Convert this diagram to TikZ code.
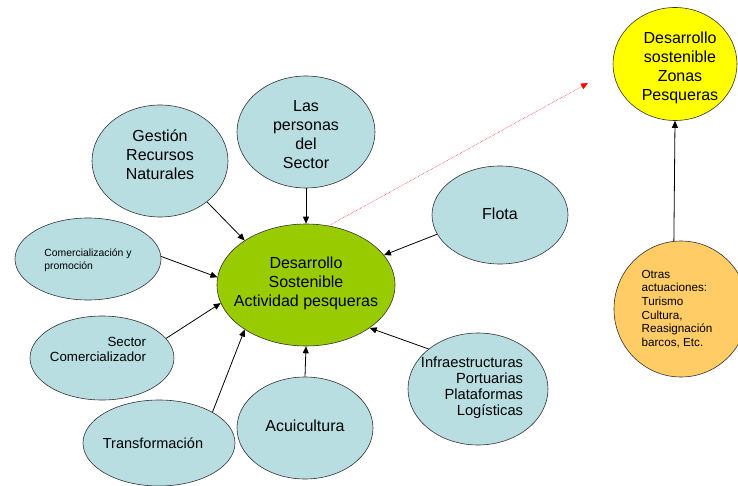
\documentclass[tikz,border=0pt]{standalone}
\usepackage{fontspec}
\setmainfont{Liberation Sans}
\usetikzlibrary{shapes.geometric,arrows.meta}
\definecolor{azul}{RGB}{184,222,226}
\definecolor{verde}{RGB}{153,204,0}
\definecolor{amarillo}{RGB}{255,255,0}
\definecolor{naranja}{RGB}{255,204,102}
% texto sin tamano propio, para que la elipse tenga justo el tamano pedido
\newcommand{\txt}[3][c]{\smash{\makebox[0pt]{\raisebox{\dimexpr#2-0.4em\relax}{\begin{tabular}{@{}#1@{}}#3\end{tabular}}}}}
\begin{document}
\begin{tikzpicture}[x=1pt, y=-1pt,
        every node/.style={ellipse,draw=black!80,line width=0.6pt,inner sep=0pt,fill=azul,font=\fontsize{16}{19}\selectfont},
        flecha/.style={-{Triangle[length=7pt,width=6pt]},line width=0.8pt}]
        \clip (0,0) rectangle (738,486);

        \node[fill=verde, minimum width=178, minimum height=122] (act) at (306,285) {\txt{3pt}{Desarrollo\\Sostenible\\Actividad pesqueras}};

        \node[minimum width=136, minimum height=112] (ges) at (160,161) {\txt{6pt}{Gestión\\Recursos\\Naturales}};
        \node[minimum width=138, minimum height=112] (per) at (306,132) {\txt{-2pt}{Las\\personas\\del\\Sector}};
        \node[minimum width=136, minimum height=98] (flo) at (500,215) {\txt{1pt}{Flota}};
        \node[minimum width=146, minimum height=82, font=\fontsize{10.4}{13}\selectfont] (com) at (88,259) {\txt[l]{0pt}{Comercialización y\\promoción}};
        \node[minimum width=144, minimum height=84, font=\fontsize{13.3}{15}\selectfont] (sec) at (102,358) {\hspace{-8pt}\txt[r]{9pt}{Sector\\Comercializador}};
        \node[minimum width=152, minimum height=86, font=\fontsize{14.5}{17}\selectfont] (tra) at (159,443) {\hspace{-12pt}\txt{0pt}{Transformación}};
        \node[minimum width=136, minimum height=102] (acu) at (305,428) {\txt{2pt}{Acuicultura}};
        \node[minimum width=140, minimum height=112, font=\fontsize{14.7}{16}\selectfont] (inf) at (478,389) {\hspace{-12pt}\txt[r]{3pt}{Infraestructuras\\Portuarias\\Plataformas\\Logísticas}};

        \node[fill=amarillo, minimum width=124, minimum height=113] (zon) at (675,64) {\hspace{10pt}\txt{-2pt}{Desarrollo\\sostenible\\Zonas\\Pesqueras}};
        \node[fill=naranja, minimum width=134, minimum height=136, font=\fontsize{11.7}{13.7}\selectfont] (otr) at (681,309) {\hspace{-8pt}\txt[l]{1pt}{Otras\\actuaciones:\\Turismo\\Cultura,\\Reasignación\\barcos, Etc.}};

        \coordinate (fin) at (588,83);

        \draw[flecha] (ges.-41) -- (act.144);
        \draw[flecha] (per.south) -- (act.north);
        \draw[flecha] (flo.197) -- (act.21);
        \draw[flecha] (com.2) -- (act.175);
        \draw[flecha] (sec.17) -- (act.192);
        \draw[flecha] (tra.30) -- (act.216);
        \draw[flecha] (acu.north) -- (act.south);
        \draw[flecha] (inf.141) -- (act.-34);
        \draw[flecha, red, line width=0.5pt, densely dotted, -{Triangle[length=7pt,width=6pt,sep=0pt]}] (act.69) -- (fin);
        \draw[flecha] (otr.96) -- (zon.south);
    \end{tikzpicture}
\end{document}
